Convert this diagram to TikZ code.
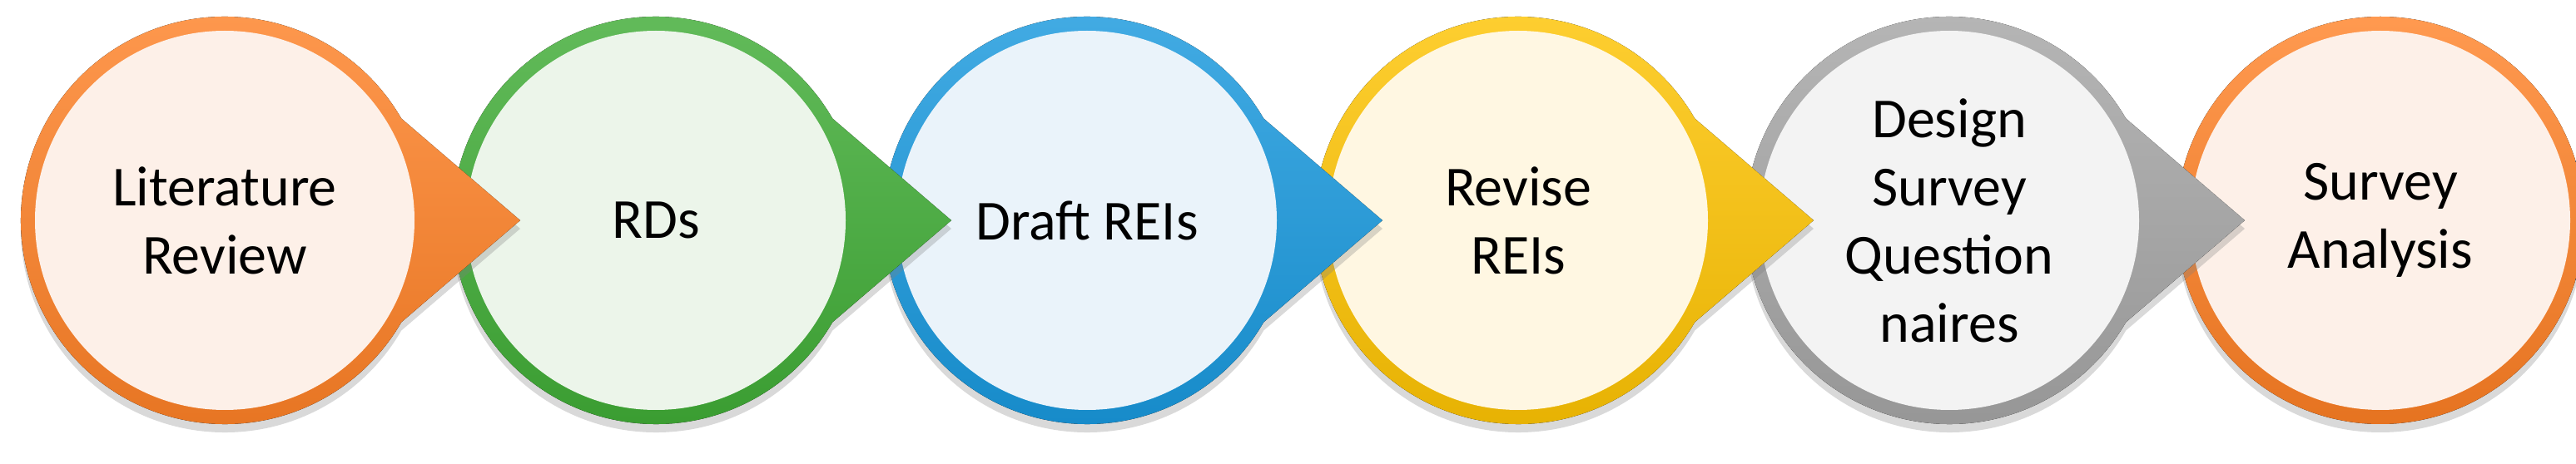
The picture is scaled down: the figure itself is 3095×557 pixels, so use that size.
\documentclass[tikz,border=0pt]{standalone}
\usepackage{fontspec}
\setmainfont{Carlito}
\usetikzlibrary{shadows}
\definecolor{c1}{RGB}{255,128,36}\definecolor{c1l}{RGB}{253,240,232}
\definecolor{c2}{RGB}{62,172,52}\definecolor{c2l}{RGB}{236,245,234}
\definecolor{c3}{RGB}{22,152,222}\definecolor{c3l}{RGB}{234,243,250}
\definecolor{c4}{RGB}{255,196,0}\definecolor{c4l}{RGB}{255,247,226}
\definecolor{c5}{RGB}{165,165,165}\definecolor{c5l}{RGB}{243,243,243}
\definecolor{c6}{RGB}{255,128,36}\definecolor{c6l}{RGB}{253,240,232}
\tikzset{
  lbl/.style={align=center,font=\fontsize{68}{82}\selectfont,text=black},
  inner/.style={circle,minimum size=456pt,inner sep=0pt},
  shd/.style={drop shadow={opacity=0.3,shadow xshift=0pt,shadow yshift=-10pt}}
}
\begin{document}
\begin{tikzpicture}[x=1pt,y=1pt]
\useasboundingbox (0,0) rectangle (3095,557);
\foreach \i/\t in {6/{Survey\\Analysis},5/{Design\\Survey\\Question\\naires},4/{Revise\\REIs},3/{Draft REIs},2/{RDs},1/{Literature\\Review}}{
  \pgfmathsetmacro{\cx}{270+(\i-1)*518}
  \ifnum\i=6
    \fill[shd,top color=c\i!80!white,bottom color=c\i!90!black] (\cx,292) circle (245);
  \else
    \fill[shd,top color=c\i!80!white,bottom color=c\i!90!black]
      (\cx+355,292) -- ([shift={(\cx,292)}]30:245) arc (30:330:245) -- cycle;
  \fi
  \node[inner,fill=c\i l] (n\i) at (\cx,292) {};
  \node[lbl] (t\i) at (n\i) {\t};
}
\end{tikzpicture}
\end{document}
